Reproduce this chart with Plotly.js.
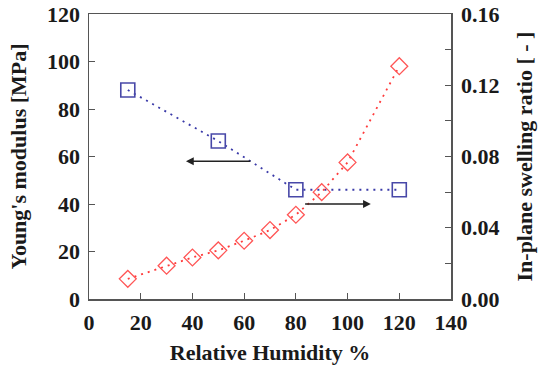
<!DOCTYPE html>
<html><head><meta charset="utf-8">
<script src="https://cdn.plot.ly/plotly-3.0.1.min.js"></script>
<style>body{margin:0;background:#fff}#c{width:543px;height:374px}</style>
</head><body><div id="c"></div>
<script>
const rhModulus = [15, 50, 80, 120];
const youngsModulus = [88, 66.5, 46, 46];
const rhSwelling = [15, 30, 40, 50, 60, 70, 80, 90, 100, 120];
const swellingRatio = [0.0113, 0.0187, 0.0233, 0.0273, 0.0327, 0.0387, 0.0473, 0.060, 0.0767, 0.1307];
const xTicks = [0, 20, 40, 60, 80, 100, 120, 140];
const yTicks = [0, 20, 40, 60, 80, 100, 120];
const y2Ticks = [0, 0.04, 0.08, 0.12, 0.16];
const y2TickLabels = ['0.00', '0.04', '0.08', '0.12', '0.16'];

const bold = a => a.map(v => '<b>' + v + '</b>');
function tf(size) { return {family: 'Liberation Serif', size: size, weight: 700, color: '#1a1a1a'}; }

const traces = [
  {x: rhModulus, y: youngsModulus, mode: 'lines+markers', xaxis: 'x', yaxis: 'y',
   line: {color: '#3a3aa8', dash: '2px,5px', width: 1.8},
   marker: {symbol: 'square-open', size: 14, color: '#4848a8', line: {width: 1.6}}},
  {x: rhSwelling, y: swellingRatio, mode: 'lines+markers', xaxis: 'x', yaxis: 'y2',
   line: {color: '#ff3b3b', dash: '2px,5px', width: 1.8},
   marker: {symbol: 'diamond-open', size: 13, color: '#ff5555', line: {width: 1.3}}}
];

const layout = {
  width: 543, height: 374,
  margin: {l: 89, r: 92, t: 14, b: 75},
  paper_bgcolor: '#fff', plot_bgcolor: '#fff',
  showlegend: false,
  font: {family: 'Liberation Serif', color: '#1a1a1a'},
  xaxis: {range: [0, 140], tickmode: 'array', tickvals: xTicks, ticktext: bold(xTicks), ticks: 'inside', ticklen: 6, tickcolor: '#555',
          showline: true, linecolor: '#555', linewidth: 1.5, mirror: true, showgrid: false, zeroline: false,
          tickfont: tf(22), ticklabelstandoff: 3,
          title: {text: '<b>Relative Humidity %</b>', font: tf(22), standoff: 10}},
  yaxis: {range: [0, 120], tickmode: 'array', tickvals: yTicks, ticktext: bold(yTicks), ticks: 'inside', ticklen: 6, tickcolor: '#555',
          showline: true, linecolor: '#555', linewidth: 1.5, showgrid: false, zeroline: false,
          tickfont: tf(22), ticklabelstandoff: 3,
          title: {text: "<b>Young's modulus [MPa]</b>", font: tf(22), standoff: 14}},
  yaxis2: {range: [0, 0.16], tickmode: 'array', tickvals: y2Ticks, ticktext: bold(y2TickLabels), overlaying: 'y', side: 'right',
           ticks: 'inside', ticklen: 6, tickcolor: '#555',
           minor: {dtick: 0.02, ticks: 'inside', ticklen: 6, tickcolor: '#555', showgrid: false},
           showline: true, linecolor: '#555', linewidth: 1.5, showgrid: false, zeroline: false,
           tickfont: tf(22), ticklabelstandoff: 4,
           title: {text: '<b>In-plane swelling ratio [ - ]</b>', font: tf(22), standoff: 18}},
  annotations: [
    {x: 37.5, y: 58, ax: 63, ay: 58, xref: 'x', yref: 'y', axref: 'x', ayref: 'y',
     showarrow: true, arrowhead: 2, arrowsize: 1.2, arrowwidth: 1.3, arrowcolor: '#222', text: ''},
    {x: 109, y: 40, ax: 83, ay: 40, xref: 'x', yref: 'y', axref: 'x', ayref: 'y',
     showarrow: true, arrowhead: 2, arrowsize: 1.2, arrowwidth: 1.3, arrowcolor: '#222', text: ''}
  ]
};

Plotly.newPlot('c', traces, layout, {displayModeBar: false, staticPlot: true});
</script>
</body></html>
